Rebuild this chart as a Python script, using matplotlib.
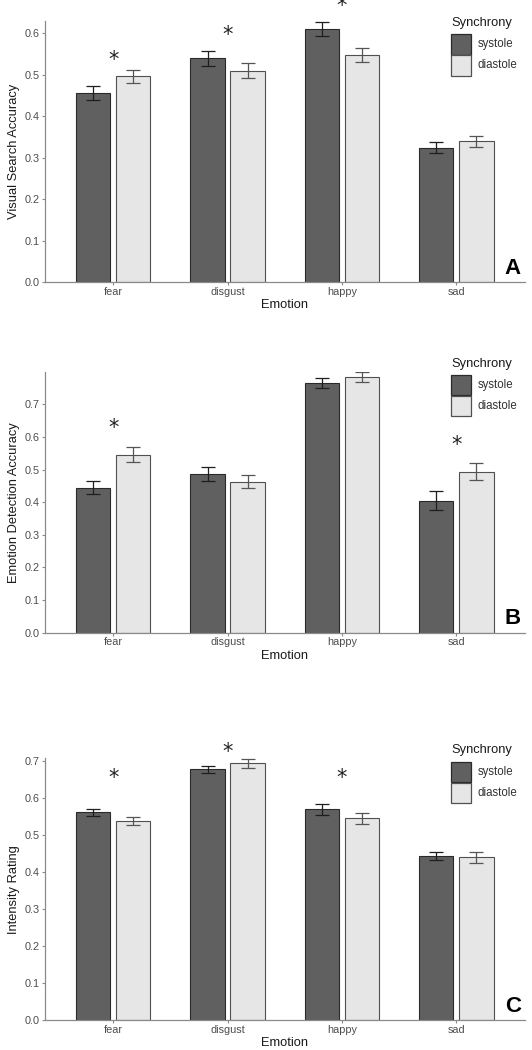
import matplotlib
matplotlib.use("Agg")
import matplotlib.pyplot as plt
from matplotlib.patches import Rectangle
import numpy as np

plt.rcParams["font.family"] = ["Liberation Sans", "DejaVu Sans"]

emotions = ["fear", "disgust", "happy", "sad"]
groups = ["systole", "diastole"]

# Panel A: Visual Search Accuracy
a_sys = [0.455, 0.540, 0.610, 0.324]
a_sys_se = [0.017, 0.018, 0.018, 0.0135]
a_dia = [0.496, 0.510, 0.547, 0.340]
a_dia_se = [0.016, 0.018, 0.017, 0.013]
a_star = [0.54, 0.60, 0.67, None]

# Panel B: Emotion Detection Accuracy
b_sys = [0.444, 0.486, 0.766, 0.405]
b_sys_se = [0.020, 0.021, 0.0155, 0.029]
b_dia = [0.546, 0.463, 0.784, 0.494]
b_dia_se = [0.0235, 0.021, 0.0155, 0.0255]
b_star = [0.634, None, None, 0.581]

# Panel C: Intensity Rating
c_sys = [0.560, 0.676, 0.568, 0.443]
c_sys_se = [0.0095, 0.0105, 0.016, 0.0115]
c_dia = [0.537, 0.692, 0.544, 0.439]
c_dia_se = [0.011, 0.0117, 0.014, 0.0144]
c_star = [0.657, 0.729, 0.657, None]

panels = [
    ("Visual Search Accuracy", a_sys, a_sys_se, a_dia, a_dia_se, a_star, "A", 0.630,
     [0.0, 0.1, 0.2, 0.3, 0.4, 0.5, 0.6]),
    ("Emotion Detection Accuracy", b_sys, b_sys_se, b_dia, b_dia_se, b_star, "B", 0.798,
     [0.0, 0.1, 0.2, 0.3, 0.4, 0.5, 0.6, 0.7]),
    ("Intensity Rating", c_sys, c_sys_se, c_dia, c_dia_se, c_star, "C", 0.706,
     [0.0, 0.1, 0.2, 0.3, 0.4, 0.5, 0.6, 0.7]),
]

W, H = 532, 1050
fig = plt.figure(figsize=(W / 100, H / 100), dpi=100)
fig.patch.set_facecolor("white")

# axes boxes in pixels: (left, top, right, bottom)
boxes = [(44.5, 20.7, 525, 282.3), (44.5, 372.3, 525, 632.7), (44.5, 758.3, 525, 1020)]
legend_title_y = [23, 363.5, 750]   # title centre, pixels from top

dark = "#606060"
light = "#e6e6e6"
edge_dark = "#2a2a2a"
edge_light = "#505050"
axis_col = "#8a8a8a"
tick_col = "#4d4d4d"

x = np.arange(len(emotions))
bw = 0.30
off = 0.175


def fx(px):
    return px / W


def fy(py):
    return 1 - py / H


for i, (ylab, sv, sse, dv, dse, stars, letter, ytop, yt) in enumerate(panels):
    l, t, r, b = boxes[i]
    ax = fig.add_axes([l / W, 1 - b / H, (r - l) / W, (b - t) / H])
    ax.bar(x - off, sv, bw, color=dark, edgecolor=edge_dark, linewidth=0.8, zorder=2)
    ax.bar(x + off, dv, bw, color=light, edgecolor=edge_light, linewidth=0.8, zorder=2)
    ax.errorbar(x - off, sv, yerr=sse, fmt="none", ecolor="#1e1e1e", elinewidth=0.9,
                capsize=4.8, capthick=0.9, zorder=3)
    ax.errorbar(x + off, dv, yerr=dse, fmt="none", ecolor="#555555", elinewidth=0.9,
                capsize=4.8, capthick=0.9, zorder=3)
    for j, s in enumerate(stars):
        if s is not None:
            ax.text(x[j], s, "*", ha="center", va="center_baseline", fontsize=15,
                    color="#222222", clip_on=False, family="DejaVu Sans")
    ax.set_xlim(-0.6, len(emotions) - 0.4)
    ax.set_ylim(0, ytop)
    ax.set_xticks(x)
    ax.set_xticklabels(emotions)
    ax.set_yticks(yt)
    ax.set_yticklabels([f"{v:.1f}" for v in yt])
    for side in ["top", "right"]:
        ax.spines[side].set_visible(False)
    for side in ["left", "bottom"]:
        ax.spines[side].set_color(axis_col)
        ax.spines[side].set_linewidth(0.9)
    ax.tick_params(axis="both", colors=axis_col, labelcolor=tick_col, labelsize=7.8,
                   length=2.2, width=0.8, pad=1.2)
    ax.set_ylabel(ylab, fontsize=9.3, color="#1a1a1a", labelpad=3)
    ax.set_xlabel("Emotion", fontsize=9.3, color="#1a1a1a", labelpad=1.5)
    ax.text(0.975, 0.053, letter, transform=ax.transAxes, ha="center",
            va="center", fontsize=16, fontweight="bold", color="black")

    # legend (drawn in figure pixel space)
    ty = legend_title_y[i]
    fig.text(fx(451), fy(ty), "Synchrony", ha="left", va="center", fontsize=9.3,
             color="#1a1a1a")
    cols = [(dark, edge_dark), (light, edge_light)]
    for k, g in enumerate(groups):
        top = ty + 11.5 + k * 21
        fig.patches.append(Rectangle((fx(451), fy(top + 20)), 20 / W, 20 / H,
                                     transform=fig.transFigure, facecolor=cols[k][0],
                                     edgecolor=cols[k][1], linewidth=0.9))
        fig.text(fx(478), fy(top + 10), g, ha="left", va="center", fontsize=8.3,
                 color="#333333")

fig.savefig("out.png", dpi=100, facecolor="white")
